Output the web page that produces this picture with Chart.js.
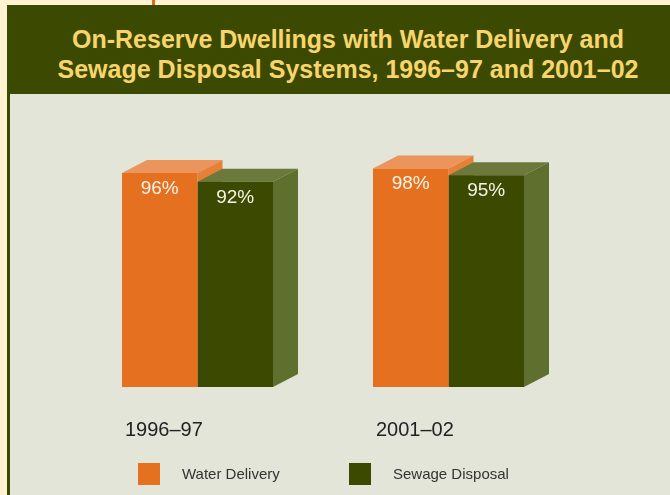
<!DOCTYPE html>
<html>
<head>
  <title>On-Reserve Dwellings with Water Delivery and Sewage Disposal Systems</title>
  <script src="https://cdn.jsdelivr.net/npm/chart.js@4.4.0/dist/chart.umd.min.js"></script>
  <style>
    body { margin: 0; width: 670px; height: 495px; background: #fff3d1; position: relative; overflow: hidden; font-family: "Liberation Sans", Arial, sans-serif; }
    #mark { position: absolute; left: 152px; top: 0; width: 3px; height: 5px; background: #e2691b; }
    #panel { position: absolute; left: 7px; top: 5px; width: 663px; height: 490px; box-sizing: border-box; border-left: 3px solid #3b4a00; background: #e3e5d8; }
    #header { height: 89px; box-sizing: border-box; padding: 19px 0 0 16px; background: #3c4a01; color: #f7d56c; font-weight: bold; font-size: 25px; line-height: 30px; text-align: center; }
    #chartBox { position: relative; width: 660px; height: 401px; }
  </style>
</head>
<body>
  <div id="mark"></div>
  <div id="panel">
    <div id="header">On-Reserve Dwellings with Water Delivery and<br>Sewage Disposal Systems, 1996–97 and 2001–02</div>
    <div id="chartBox">
      <canvas id="myChart" width="660" height="401"></canvas>
    </div>
  </div>
<script>
  // chart data
  const categories = ['1996–97', '2001–02'];
  const seriesNames = ['Water Delivery', 'Sewage Disposal'];
  const waterDelivery = [96, 98];
  const sewageDisposal = [92, 95];

  // how far the top and side faces go back
  const depthX = 25;
  const depthY = 13;

  // draws the top and side faces of each bar, before the fronts are painted
  const bar3d = {
    id: 'bar3d',
    beforeDatasetsDraw(chart) {
      const ctx = chart.ctx;
      ctx.save();
      for (let i = 0; i < chart.data.labels.length; i++) {
        chart.data.datasets.forEach((ds, d) => {
          const bar = chart.getDatasetMeta(d).data[i];
          const left = bar.x - bar.width / 2;
          const right = bar.x + bar.width / 2;

          ctx.fillStyle = ds.topColor;
          ctx.beginPath();
          ctx.moveTo(left, bar.y);
          ctx.lineTo(left + depthX, bar.y - depthY);
          ctx.lineTo(right + depthX, bar.y - depthY);
          ctx.lineTo(right, bar.y);
          ctx.closePath();
          ctx.fill();

          ctx.fillStyle = ds.sideColor;
          ctx.beginPath();
          ctx.moveTo(right, bar.y);
          ctx.lineTo(right + depthX, bar.y - depthY);
          ctx.lineTo(right + depthX, bar.base - depthY);
          ctx.lineTo(right, bar.base);
          ctx.closePath();
          ctx.fill();
        });
      }
      ctx.restore();
    },
    afterDatasetsDraw(chart) {
      // percent labels inside the bar fronts
      const ctx = chart.ctx;
      ctx.save();
      ctx.font = '19px "Liberation Sans", Arial, sans-serif';
      ctx.fillStyle = '#f7f3ea';
      ctx.textAlign = 'center';
      ctx.textBaseline = 'alphabetic';
      chart.data.datasets.forEach((ds, d) => {
        chart.getDatasetMeta(d).data.forEach((bar, i) => {
          ctx.fillText(ds.data[i] + '%', bar.x, bar.y + 21);
        });
      });
      ctx.restore();
    },
    afterDraw(chart) {
      const ctx = chart.ctx;
      ctx.save();

      // category labels, left aligned under each group
      ctx.font = '20px "Liberation Sans", Arial, sans-serif';
      ctx.fillStyle = '#222222';
      ctx.textAlign = 'left';
      ctx.textBaseline = 'alphabetic';
      chart.getDatasetMeta(0).data.forEach((bar, i) => {
        ctx.fillText(chart.data.labels[i], bar.x - bar.width / 2 + 3, 342);
      });

      // legend
      const legendX = [128, 339];
      ctx.font = '15px "Liberation Sans", Arial, sans-serif';
      ctx.textBaseline = 'middle';
      chart.data.datasets.forEach((ds, d) => {
        ctx.fillStyle = ds.backgroundColor;
        ctx.fillRect(legendX[d], 369, 22, 22);
        ctx.fillStyle = '#333333';
        ctx.fillText(ds.label, legendX[d] + 44, 381);
      });
      ctx.restore();
    }
  };

  new Chart(document.getElementById('myChart'), {
    type: 'bar',
    data: {
      labels: categories,
      datasets: [
        {
          label: seriesNames[0],
          data: waterDelivery,
          backgroundColor: '#e5701f',
          topColor: '#eb955c',
          sideColor: '#e67f38'
        },
        {
          label: seriesNames[1],
          data: sewageDisposal,
          backgroundColor: '#3b4a00',
          topColor: '#6b7a3b',
          sideColor: '#5e6f2e'
        }
      ]
    },
    options: {
      responsive: false,
      animation: false,
      events: [],
      layout: { padding: { left: 62, right: 96, top: 70, bottom: 108 } },
      datasets: { bar: { barPercentage: 1, categoryPercentage: 0.6016 } },
      plugins: {
        legend: { display: false },
        title: { display: false },
        tooltip: { enabled: false }
      },
      scales: {
        x: { display: false },
        y: { display: false, min: 0, max: 100 }
      }
    },
    plugins: [bar3d]
  });
</script>
</body>
</html>
